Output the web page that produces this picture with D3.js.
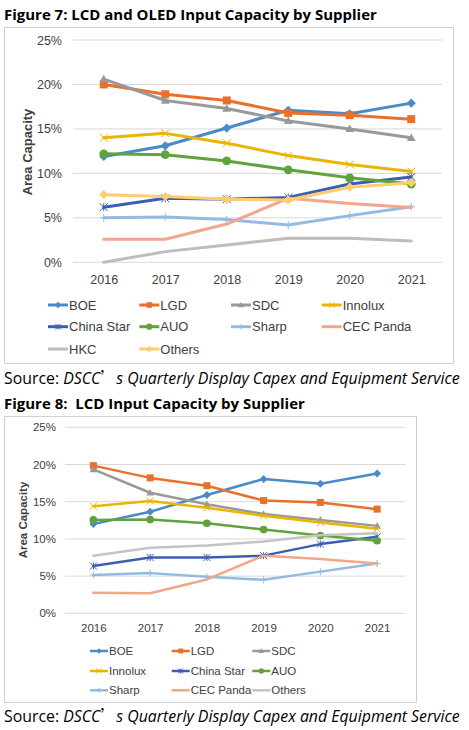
<!DOCTYPE html>
<html><head><meta charset="utf-8">
<script src="https://cdn.jsdelivr.net/npm/d3@7"></script>
<style>body{margin:0;background:#fff}svg{display:block}</style></head>
<body>
<svg id="c" width="469" height="730"></svg>
<script>
// ---------- data ----------
const years = ["2016","2017","2018","2019","2020","2021"];
const yTicks = [0, 5, 10, 15, 20, 25];

// Figure 7: LCD and OLED
const f7Names = ["BOE","LGD","SDC","Innolux","China Star","AUO","Sharp","CEC Panda","HKC","Others"];
const f7BOE       = [11.9, 13.1, 15.1, 17.1, 16.7, 17.9];
const f7LGD       = [20.0, 18.9, 18.2, 16.8, 16.55, 16.1];
const f7SDC       = [20.6, 18.2, 17.3, 15.9, 15.0, 14.0];
const f7Innolux   = [14.0, 14.5, 13.4, 12.0, 11.0, 10.2];
const f7ChinaStar = [6.2, 7.2, 7.1, 7.3, 8.8, 9.6];
const f7AUO       = [12.2, 12.1, 11.4, 10.4, 9.5, 8.8];
const f7Sharp     = [5.0, 5.1, 4.8, 4.2, 5.25, 6.25];
const f7CEC       = [2.6, 2.6, 4.3, 7.2, 6.6, 6.15];
const f7HKC       = [0.0, 1.2, 1.95, 2.7, 2.7, 2.4];
const f7Others    = [7.6, 7.4, 7.1, 7.0, 8.45, 8.95];

// Figure 8: LCD only
const f8Names = ["BOE","LGD","SDC","Innolux","China Star","AUO","Sharp","CEC Panda","Others"];
const f8BOE       = [12.0, 13.65, 15.9, 18.05, 17.4, 18.8];
const f8LGD       = [19.85, 18.2, 17.15, 15.15, 14.9, 14.0];
const f8SDC       = [19.35, 16.2, 14.65, 13.35, 12.55, 11.75];
const f8Innolux   = [14.4, 15.1, 14.2, 13.1, 12.2, 11.35];
const f8ChinaStar = [6.35, 7.5, 7.5, 7.75, 9.3, 10.3];
const f8AUO       = [12.55, 12.6, 12.1, 11.25, 10.45, 9.75];
const f8Sharp     = [5.15, 5.4, 4.9, 4.5, 5.6, 6.7];
const f8CEC       = [2.75, 2.7, 4.55, 7.75, 7.3, 6.7];
const f8Others    = [7.75, 8.8, 9.1, 9.65, 10.5, 10.75];

// ---------- styles ----------
const colors = {
  "BOE":"#4A8AC9","LGD":"#E8702A","SDC":"#999999","Innolux":"#EAB400",
  "China Star":"#3A5FB2","AUO":"#62A23D","Sharp":"#93BAE2","CEC Panda":"#F2A68A",
  "HKC":"#BDBDBD","Others7":"#FFCD6E","Others8":"#C4C4C4"
};
const markers = {
  "BOE":"diamond","LGD":"square","SDC":"triangle","Innolux":"x","China Star":"star",
  "AUO":"circle","Sharp":"plus","CEC Panda":"none","HKC":"none","Others7":"diamond","Others8":"none"
};

const svg = d3.select("#c");
const AX = "'Liberation Sans', Arial, sans-serif";
const UI = "'Open Sans', 'Noto Sans', sans-serif";

// squeeze text horizontally so it spans width w while keeping its font size
function fitX(sel, x0, w) {
  const cur = sel.node().getComputedTextLength();
  const sx = w / cur;
  sel.attr("transform", `translate(${x0},0) scale(${sx.toFixed(4)},1) translate(${-x0},0)`);
}

function marker(g, type, x, y, s, color) {
  const h = s / 2;
  if (type === "diamond") {
    g.append("path").attr("d", `M${x},${y-h*1.15}L${x+h*1.15},${y}L${x},${y+h*1.15}L${x-h*1.15},${y}Z`).attr("fill", color);
  } else if (type === "square") {
    g.append("rect").attr("x", x-h).attr("y", y-h).attr("width", s).attr("height", s).attr("fill", color);
  } else if (type === "triangle") {
    g.append("path").attr("d", `M${x},${y-h*1.1}L${x+h*1.1},${y+h*0.8}L${x-h*1.1},${y+h*0.8}Z`).attr("fill", color);
  } else if (type === "circle") {
    g.append("circle").attr("cx", x).attr("cy", y).attr("r", h*1.1).attr("fill", color);
  } else if (type === "x" || type === "star" || type === "plus") {
    const p = [];
    if (type !== "plus") { p.push(`M${x-h},${y-h}L${x+h},${y+h}M${x-h},${y+h}L${x+h},${y-h}`); }
    if (type === "star") { p.push(`M${x},${y-h}L${x},${y+h}`); }
    if (type === "plus") { p.push(`M${x-h},${y}L${x+h},${y}M${x},${y-h}L${x},${y+h}`); }
    g.append("path").attr("d", p.join("")).attr("stroke", color).attr("stroke-width", 1).attr("fill", "none");
  }
}

function drawChart(cfg) {
  const g = svg.append("g");
  g.append("rect").attr("x", cfg.box[0]).attr("y", cfg.box[1])
    .attr("width", cfg.box[2]-cfg.box[0]).attr("height", cfg.box[3]-cfg.box[1])
    .attr("fill", "#fff").attr("stroke", "#D0D0D0").attr("stroke-width", 1);

  const x = d3.scalePoint().domain(years).range([cfg.x0, cfg.x1]).padding(0.5);
  const y = d3.scaleLinear().domain([0, 25]).range([cfg.y0, cfg.y25]);

  g.append("g").selectAll("line").data(yTicks).join("line")
    .attr("x1", cfg.x0).attr("x2", cfg.x1)
    .attr("y1", d => y(d)).attr("y2", d => y(d))
    .attr("stroke", "#D9D9D9").attr("stroke-width", 1);

  const ya = d3.axisLeft(y).tickValues(yTicks).tickFormat(d => d + "%").tickSize(0).tickPadding(0);
  const yg = g.append("g").attr("transform", `translate(${cfg.tickRight},0)`).call(ya);
  yg.select(".domain").remove();
  yg.selectAll("text").attr("font-family", AX).attr("font-size", cfg.tickFs).attr("fill", "#404040");

  const xa = d3.axisBottom(x).tickSize(0).tickPadding(0);
  const xg = g.append("g").attr("transform", `translate(0,${cfg.xLabY})`).call(xa);
  xg.select(".domain").remove();
  xg.selectAll("text").attr("font-family", AX).attr("font-size", cfg.tickFs).attr("fill", "#404040").attr("dy", "0");

  g.append("text").attr("transform", `translate(${cfg.yTitle[0]},${cfg.yTitle[1]}) rotate(-90)`)
    .attr("text-anchor", "middle").attr("dy", "0.35em")
    .attr("font-family", AX).attr("font-weight", "bold").attr("font-size", cfg.yTitleFs)
    .attr("fill", "#404040").text("Area Capacity");

  const line = d3.line().x((d, i) => x(years[i])).y(d => y(d));
  cfg.series.forEach(s => {
    const c = colors[s.key];
    g.append("path").datum(s.values).attr("d", line)
      .attr("fill", "none").attr("stroke", c).attr("stroke-width", cfg.lw)
      .attr("stroke-linejoin", "round").attr("stroke-linecap", "round");
    const mg = g.append("g");
    s.values.forEach((v, i) => marker(mg, markers[s.key], x(years[i]), y(v), cfg.ms, c));
  });

  cfg.series.forEach((s, i) => {
    const col = i % cfg.legCols.length, row = Math.floor(i / cfg.legCols.length);
    const lx = cfg.legCols[col], ly = cfg.legRows[row];
    const c = colors[s.key];
    g.append("line").attr("x1", lx).attr("x2", lx + cfg.legLen).attr("y1", ly).attr("y2", ly)
      .attr("stroke", c).attr("stroke-width", cfg.lw);
    marker(g, markers[s.key], lx + cfg.legLen/2, ly, cfg.ms*0.7, c);
    g.append("text").attr("x", lx + cfg.legLen + 1).attr("y", ly).attr("dy", "0.36em")
      .attr("font-family", AX).attr("font-size", cfg.legFs).attr("fill", "#404040").text(s.name);
  });
}

function title(txt, yb, w) {
  const t = svg.append("text").attr("x", 4).attr("y", yb)
    .attr("font-family", UI).attr("font-weight", "bold").attr("font-size", 15)
    .attr("fill", "#000").style("white-space", "pre").text(txt);
  fitX(t, 4, w);
}
function source(yb) {
  const t = svg.append("text").attr("x", 4).attr("y", yb)
    .attr("font-family", UI).attr("font-size", 16).attr("fill", "#000").style("white-space", "pre");
  t.append("tspan").text("Source: ");
  t.append("tspan").attr("font-style", "italic").text("DSCC");
  t.append("tspan").attr("font-family", "'Noto Sans CJK SC', sans-serif").text("\u2019");
  t.append("tspan").attr("font-style", "italic").text("s Quarterly Display Capex and Equipment Service");
  fitX(t, 4, 456);
}

title("Figure 7: LCD and OLED Input Capacity by Supplier", 20.5, 373);

const f7Vals = [f7BOE, f7LGD, f7SDC, f7Innolux, f7ChinaStar, f7AUO, f7Sharp, f7CEC, f7HKC, f7Others];
drawChart({
  box: [4.5, 27.5, 453.5, 363.5],
  x0: 73, x1: 442, y0: 262.3, y25: 40,
  tickRight: 62, tickFs: 12.5, xLabY: 283.5,
  yTitle: [27, 152], yTitleFs: 13,
  lw: 3, ms: 8,
  legCols: [48, 139.3, 231, 321.7], legRows: [305, 326.7, 349], legLen: 20, legFs: 13,
  series: f7Names.map((n, i) => ({name: n, key: n === "Others" ? "Others7" : n, values: f7Vals[i]}))
});
source(384);

title("Figure 8:  LCD Input Capacity by Supplier", 409.5, 301);

const f8Vals = [f8BOE, f8LGD, f8SDC, f8Innolux, f8ChinaStar, f8AUO, f8Sharp, f8CEC, f8Others];
drawChart({
  box: [4.5, 416.5, 416.5, 702.5],
  x0: 65, x1: 405.5, y0: 613.3, y25: 427.3,
  tickRight: 56, tickFs: 11.5, xLabY: 632,
  yTitle: [23, 520], yTitleFs: 11.5,
  lw: 2.5, ms: 7,
  legCols: [90, 171.7, 252.3], legRows: [651, 671, 690.3], legLen: 18, legFs: 11.5,
  series: f8Names.map((n, i) => ({name: n, key: n === "Others" ? "Others8" : n, values: f8Vals[i]}))
});
source(722.3);
</script>
</body></html>
